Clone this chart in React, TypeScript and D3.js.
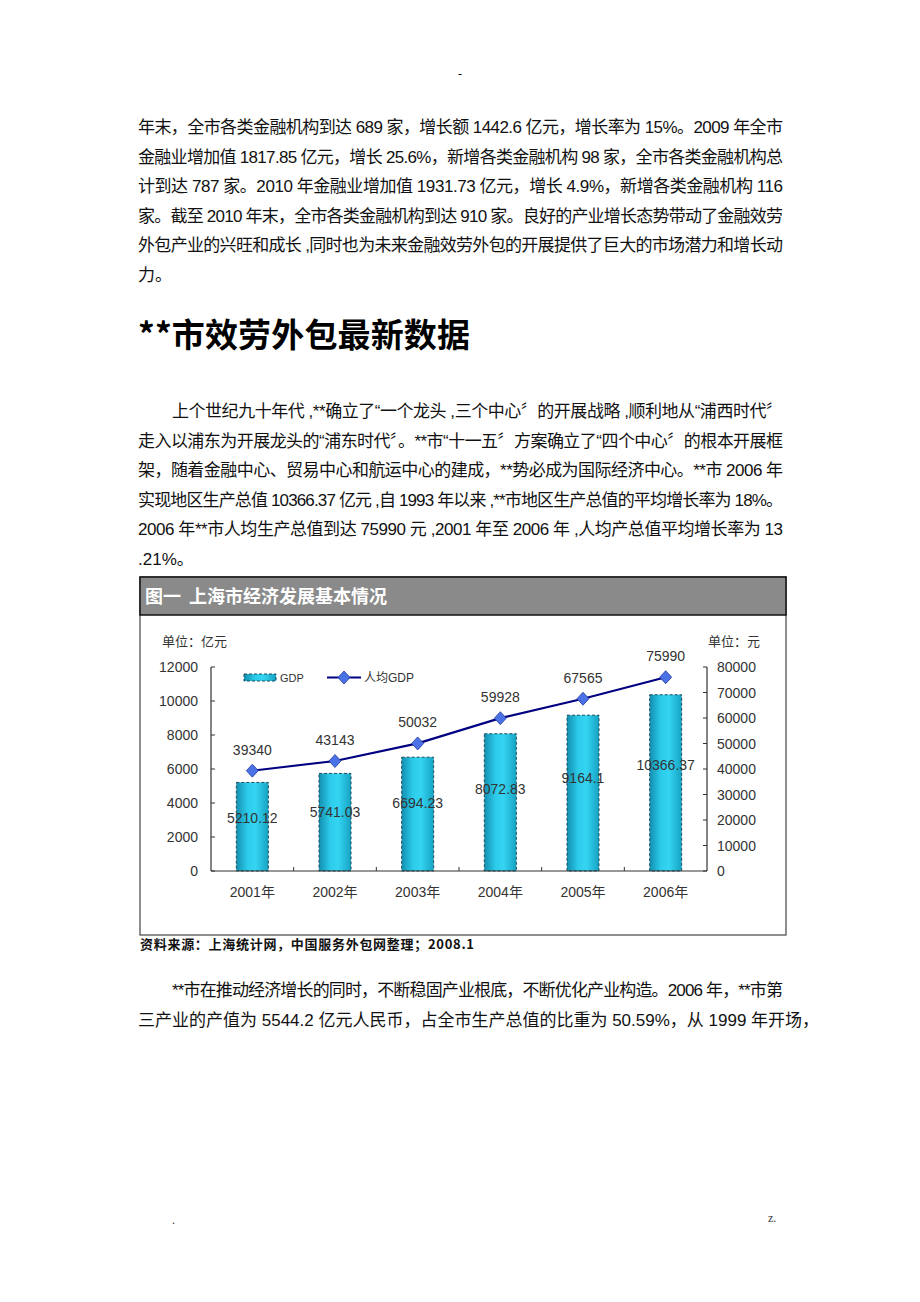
import React from 'react';
import * as d3 from 'd3';

const years = ['2001年', '2002年', '2003年', '2004年', '2005年', '2006年'];
const gdp = [5210.12, 5741.03, 6694.23, 8072.83, 9164.1, 10366.37];
const gdpPerCapita = [39340, 43143, 50032, 59928, 67565, 75990];
const leftTicks = [0, 2000, 4000, 6000, 8000, 10000, 12000];
const rightTicks = [0, 10000, 20000, 30000, 40000, 50000, 60000, 70000, 80000];

const para1 = [
  '年末，全市各类金融机构到达 689 家，增长额 1442.6 亿元，增长率为 15%。2009 年全市',
  '金融业增加值 1817.85 亿元，增长 25.6%，新增各类金融机构 98 家，全市各类金融机构总',
  '计到达 787 家。2010 年金融业增加值 1931.73 亿元，增长 4.9%，新增各类金融机构 116',
  '家。截至 2010 年末，全市各类金融机构到达 910 家。良好的产业增长态势带动了金融效劳',
  '外包产业的兴旺和成长 ,同时也为未来金融效劳外包的开展提供了巨大的市场潜力和增长动',
  '力。',
];
const para2 = [
  '上个世纪九十年代 ,**确立了“一个龙头 ,三个中心〞的开展战略 ,顺利地从“浦西时代〞',
  '走入以浦东为开展龙头的“浦东时代〞。**市“十一五〞方案确立了“四个中心〞的根本开展框',
  '架，随着金融中心、贸易中心和航运中心的建成，**势必成为国际经济中心。**市 2006 年',
  '实现地区生产总值 10366.37 亿元 ,自 1993 年以来 ,**市地区生产总值的平均增长率为 18%。',
  '2006 年**市人均生产总值到达 75990 元 ,2001 年至 2006 年 ,人均产总值平均增长率为 13',
  '.21%。',
];
const para3 = [
  '**市在推动经济增长的同时，不断稳固产业根底，不断优化产业构造。2006 年，**市第',
  '三产业的产值为 5544.2 亿元人民币，占全市生产总值的比重为 50.59%，从 1999 年开场，',
];

const bodyFont = '"Liberation Sans", Arial, "Noto Sans CJK SC", sans-serif';
const chartFont = '"Liberation Sans", Arial, "Noto Sans CJK SC", sans-serif';

const TextBlock = ({ lines, top, indent }: { lines: string[]; top: number; indent: number }) => (
  <g fontFamily={bodyFont} fontSize={17} fill="#111">
    {lines.map((t, i) => {
      const x = i === 0 ? 138 + indent : 138;
      const full = i < lines.length - 1;
      return (
        <text
          key={i}
          x={x}
          y={top + i * 29.6}
          textLength={full ? 783 - x : undefined}
          lengthAdjust="spacing"
        >
          {t}
        </text>
      );
    })}
  </g>
);

const Chart = () => {
  const left = 211;
  const right = 707;
  const top = 667;
  const bottom = 871;

  const x = d3.scaleBand<string>().domain(years).range([left, right]).padding(0);
  const yL = d3.scaleLinear().domain([0, 12000]).range([bottom, top]);
  const yR = d3.scaleLinear().domain([0, 80000]).range([bottom, top]);
  const barW = 32;
  const cx = (d: string) => (x(d) as number) + x.bandwidth() / 2;

  const line = d3
    .line<number>()
    .x((_, i) => cx(years[i]))
    .y(d => yR(d));

  const diamond = 'M0,-6.5L6,0L0,6.5L-6,0Z';

  return (
    <g fontFamily={chartFont}>
      <defs>
        <linearGradient id="barGrad" x1="0" x2="1" y1="0" y2="0">
          <stop offset="0%" stopColor="#138fb0" />
          <stop offset="35%" stopColor="#2ccbea" />
          <stop offset="60%" stopColor="#34d5f2" />
          <stop offset="100%" stopColor="#17a2c3" />
        </linearGradient>
      </defs>

      {/* frame */}
      <rect x={140} y={577} width={646} height={358} fill="#fff" stroke="#444" strokeWidth={1.2} />
      <rect x={140} y={577} width={646} height={38} fill="#8a8a8a" stroke="#111" strokeWidth={1.5} />
      <text x={145} y={603} fill="#fff" fontSize={18} fontWeight="bold" fontFamily='"Noto Sans CJK SC", serif'>
        图一
      </text>
      <text x={189} y={603} fill="#fff" fontSize={18} fontWeight="bold" fontFamily='"Noto Sans CJK SC", serif'>
        上海市经济发展基本情况
      </text>

      {/* unit labels */}
      <text x={162} y={646} fontSize={13} fill="#333">单位：亿元</text>
      <text x={760} y={646} fontSize={13} fill="#333" textAnchor="end">单位：元</text>

      {/* bars */}
      {gdp.map((v, i) => (
        <rect
          key={i}
          x={cx(years[i]) - barW / 2}
          y={yL(v)}
          width={barW}
          height={bottom - yL(v)}
          fill="url(#barGrad)"
          stroke="#1b4f5e"
          strokeWidth={1}
          strokeDasharray="3,2"
        />
      ))}
      {gdp.map((v, i) => (
        <text key={i} x={cx(years[i])} y={yL(v * 0.6) + 5} fontSize={14} fill="#333" textAnchor="middle">
          {String(v)}
        </text>
      ))}

      {/* axes */}
      <line x1={left} x2={left} y1={top} y2={bottom} stroke="#333" strokeWidth={1.2} />
      <line x1={right} x2={right} y1={top} y2={bottom} stroke="#333" strokeWidth={1.2} />
      <line x1={left} x2={right} y1={bottom} y2={bottom} stroke="#333" strokeWidth={1.2} />
      {leftTicks.map(t => (
        <g key={t}>
          <line x1={left} x2={left + 4} y1={yL(t)} y2={yL(t)} stroke="#333" />
          <text x={198} y={yL(t) + 5} fontSize={14} fill="#333" textAnchor="end">{t}</text>
        </g>
      ))}
      {rightTicks.map(t => (
        <g key={t}>
          <line x1={right - 4} x2={right} y1={yR(t)} y2={yR(t)} stroke="#333" />
          <text x={717} y={yR(t) + 5} fontSize={14} fill="#333">{t}</text>
        </g>
      ))}
      {years.slice(1).map(d => (
        <line key={d} x1={x(d) as number} x2={x(d) as number} y1={bottom} y2={bottom - 4} stroke="#333" />
      ))}
      {years.map(d => (
        <text key={d} x={cx(d)} y={897} fontSize={14} fill="#333" textAnchor="middle">{d}</text>
      ))}

      {/* line series */}
      <path d={line(gdpPerCapita) || ''} fill="none" stroke="#000080" strokeWidth={2.2} />
      {gdpPerCapita.map((v, i) => (
        <g key={i}>
          <path
            d={diamond}
            transform={`translate(${cx(years[i])},${yR(v)})`}
            fill="#4a72e6"
            stroke="#1f3a9a"
            strokeWidth={0.8}
          />
          <text x={cx(years[i])} y={yR(v) - 16} fontSize={14} fill="#333" textAnchor="middle">{v}</text>
        </g>
      ))}

      {/* legend */}
      <rect x={244} y={674} width={32} height={7} fill="url(#barGrad)" stroke="#1b4f5e" strokeDasharray="3,2" />
      <text x={280} y={682} fontSize={11} fill="#333">GDP</text>
      <line x1={327} x2={361} y1={677.5} y2={677.5} stroke="#000080" strokeWidth={2.2} />
      <path d={diamond} transform="translate(344,677.5)" fill="#4a72e6" stroke="#1f3a9a" strokeWidth={0.8} />
      <text x={364} y={682} fontSize={12} fill="#333">人均GDP</text>

      {/* source */}
      <text x={140} y={949} fontSize={13} fill="#111" fontWeight="bold" textLength={334} lengthAdjust="spacing"
        fontFamily='"Noto Sans CJK SC", sans-serif'>
        资料来源：上海统计网，中国服务外包网整理；2008.1
      </text>
    </g>
  );
};

export default function App() {
  return (
    <div style={{ position: 'absolute', left: 0, top: 0 }}>
      <svg width={920} height={1302} style={{ display: 'block', background: '#fff' }}>
        <text x={460} y={78} fontSize={12} textAnchor="middle" fill="#000">-</text>
        <TextBlock lines={para1} top={133} indent={0} />
        <text x={138} y={347} fontSize={33} fontWeight="bold" fill="#000" textLength={332} lengthAdjust="spacing"
          fontFamily='"Noto Sans CJK SC", sans-serif'>
          **市效劳外包最新数据
        </text>
        <TextBlock lines={para2} top={417} indent={34} />
        <Chart />
        <TextBlock lines={para3} top={996} indent={34} />
        <text x={172} y={1224} fontSize={12} fill="#333" fontFamily="serif">.</text>
        <text x={768} y={1222} fontSize={12} fill="#333" fontFamily="serif">z.</text>
      </svg>
    </div>
  );
}
